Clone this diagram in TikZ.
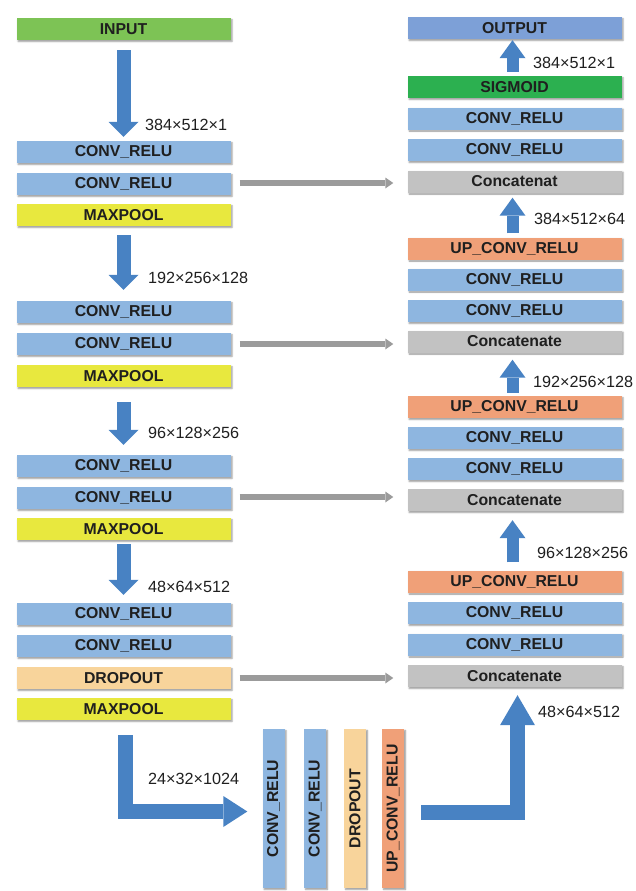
\documentclass[tikz,border=0pt]{standalone}
\usepackage{fontspec}
\setmainfont{Liberation Sans}
\usetikzlibrary{arrows.meta,calc,shadows.blur}

\definecolor{ingreen}{RGB}{125,195,85}
\definecolor{convblue}{RGB}{142,182,224}
\definecolor{poolyellow}{RGB}{232,232,62}
\definecolor{dropsand}{RGB}{248,212,155}
\definecolor{upsalmon}{RGB}{240,160,120}
\definecolor{catgray}{RGB}{194,194,194}
\definecolor{siggreen}{RGB}{44,176,80}
\definecolor{outblue}{RGB}{125,160,215}
\definecolor{flowblue}{RGB}{72,130,195}
\definecolor{skipgray}{RGB}{155,155,155}

\tikzset{
  layer/.style={minimum width=214pt, minimum height=22pt, inner sep=0pt, text=black!88,
    font=\bfseries\fontsize{15.8}{15.8}\selectfont,
    blur shadow={shadow xshift=1.5pt, shadow yshift=-1.5pt, shadow blur radius=1.5pt, shadow opacity=40}},
  convlayer/.style={layer, fill=convblue},
  poollayer/.style={layer, fill=poolyellow},
  droplayer/.style={layer, fill=dropsand},
  uplayer/.style={layer, fill=upsalmon},
  catlayer/.style={layer, fill=catgray},
  barlayer/.style={layer, minimum width=159pt, minimum height=22pt, rotate=90},
  dimlabel/.style={anchor=west, inner sep=0pt, text=black!88, font=\fontsize{16.2}{16.2}\selectfont},
  flow/.style={draw=flowblue, line width=14pt, line join=miter,
    -{Triangle[width=30pt,length=15pt,line width=0pt]}},
  upflow/.style={draw=flowblue, line width=12pt,
    -{Triangle[width=26pt,length=18pt,line width=0pt]}},
  skip/.style={draw=skipgray, line width=6pt,
    -{Triangle[width=11pt,length=8pt,line width=0pt]}}
}

\begin{document}
\begin{tikzpicture}[x=1pt,y=1pt,yscale=-1,xscale=1]
\useasboundingbox (0,0) rectangle (635,891);

%Encoder column
\node[layer, fill=ingreen] (in) at (123.5,29) {INPUT};
\node[convlayer] (c11) at (123.5,152) {CONV\_RELU};
\node[convlayer] (c12) at (123.5,184) {CONV\_RELU};
\node[poollayer] (p1) at (123.5,215) {MAXPOOL};
\node[convlayer] (c21) at (123.5,312) {CONV\_RELU};
\node[convlayer] (c22) at (123.5,344) {CONV\_RELU};
\node[poollayer] (p2) at (123.5,376) {MAXPOOL};
\node[convlayer] (c31) at (123.5,466) {CONV\_RELU};
\node[convlayer] (c32) at (123.5,498) {CONV\_RELU};
\node[poollayer] (p3) at (123.5,529) {MAXPOOL};
\node[convlayer] (c41) at (123.5,614) {CONV\_RELU};
\node[convlayer] (c42) at (123.5,646) {CONV\_RELU};
\node[droplayer] (d4) at (123.5,678) {DROPOUT};
\node[poollayer] (p4) at (123.5,709) {MAXPOOL};

%Bottleneck bars (rotated: north is the left side)
\node[barlayer, fill=convblue] (b1) at (273.5,808.5) {CONV\_RELU};
\node[barlayer, fill=convblue] (b2) at (315,808.5) {CONV\_RELU};
\node[barlayer, fill=dropsand] (b3) at (355,808.5) {DROPOUT};
\node[barlayer, fill=upsalmon] (b4) at (393,808.5) {UP\_CONV\_RELU};

%Decoder column
\node[layer, fill=outblue] (out) at (514.5,28) {OUTPUT};
\node[layer, fill=siggreen] (sig) at (514.5,87) {SIGMOID};
\node[convlayer] (r11) at (514.5,118.5) {CONV\_RELU};
\node[convlayer] (r12) at (514.5,150) {CONV\_RELU};
\node[catlayer] (cat1) at (514.5,181.5) {Concatenat};
\node[uplayer] (up2) at (514.5,248.5) {UP\_CONV\_RELU};
\node[convlayer] (r21) at (514.5,279.5) {CONV\_RELU};
\node[convlayer] (r22) at (514.5,311) {CONV\_RELU};
\node[catlayer] (cat2) at (514.5,341.5) {Concatenate};
\node[uplayer] (up3) at (514.5,407) {UP\_CONV\_RELU};
\node[convlayer] (r31) at (514.5,438) {CONV\_RELU};
\node[convlayer] (r32) at (514.5,469) {CONV\_RELU};
\node[catlayer] (cat3) at (514.5,500) {Concatenate};
\node[uplayer] (up4) at (514.5,581.5) {UP\_CONV\_RELU};
\node[convlayer] (r41) at (514.5,613) {CONV\_RELU};
\node[convlayer] (r42) at (514.5,644.5) {CONV\_RELU};
\node[catlayer] (cat4) at (514.5,676) {Concatenate};

%Down arrows
\draw[flow] ($(in.south)+(0,10)$) -- ($(c11.north)+(0,-4)$);
\draw[flow] ($(p1.south)+(0,9)$) -- ($(c21.north)+(0,-11)$);
\draw[flow] ($(p2.south)+(0,15)$) -- ($(c31.north)+(0,-10)$);
\draw[flow] ($(p3.south)+(0,4)$) -- ($(c41.north)+(0,-8)$);
\draw[flow, line width=15pt, -{Triangle[width=31pt,length=24pt,line width=0pt]}]
  ($(p4.south)+(1.5,15)$) |- ($(b1.north)+(-15,3)$);
\draw[flow, line width=15pt, -{Triangle[width=35pt,length=30pt,line width=0pt]}]
  ($(b4.south)+(17,3.5)$) -| ($(cat4.south)+(3,8)$);

%Up arrows
\draw[upflow] ($(sig.north)+(-2,-4)$) -- ($(out.south)+(-2,1)$);
\draw[upflow] ($(up2.north)+(-2,-4)$) -- ($(cat1.south)+(-2,5)$);
\draw[upflow] ($(up3.north)+(-2,-3)$) -- ($(cat2.south)+(-2,7)$);
\draw[upflow] ($(up4.north)+(-2,-8)$) -- ($(cat3.south)+(-2,9)$);

%Skip connections
\draw[skip] ($(c12.east)+(9,-1)$) -- ($(c12.east -| cat1.west)+(-14,-1)$);
\draw[skip] ($(c22.east)+(9,0)$) -- ($(c22.east -| cat2.west)+(-14,0)$);
\draw[skip] ($(c32.east)+(9,-1)$) -- ($(c32.east -| cat3.west)+(-14,-1)$);
\draw[skip] ($(d4.east)+(9,0)$) -- ($(d4.east -| cat4.west)+(-14,0)$);

%Size labels
\node[dimlabel] (s1) at (145,125) {384×512×1};
\node[dimlabel] (s2) at (148,278) {192×256×128};
\node[dimlabel] (s3) at (148,433) {96×128×256};
\node[dimlabel] (s4) at (148,587) {48×64×512};
\node[dimlabel] (s5) at (148,779) {24×32×1024};
\node[dimlabel] (t1) at (533,63) {384×512×1};
\node[dimlabel] (t2) at (534,219) {384×512×64};
\node[dimlabel] (t3) at (533,382) {192×256×128};
\node[dimlabel] (t4) at (537,553) {96×128×256};
\node[dimlabel] (t5) at (538,712) {48×64×512};

\end{tikzpicture}
\end{document}
